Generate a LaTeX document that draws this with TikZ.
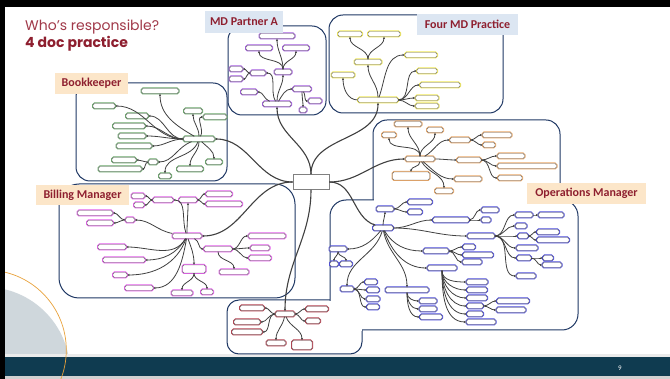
\documentclass[tikz,border=0pt]{standalone}
\usepackage{fontspec}
\setmainfont{Carlito}
\newfontfamily\titlefont{Poppins}
\usetikzlibrary{arrows.meta}

\definecolor{navy}{HTML}{1F3864}
\definecolor{wine}{HTML}{8E1F2F}
\definecolor{titlered}{HTML}{A13A4A}
\definecolor{tagbeige}{HTML}{FCE6C9}
\definecolor{tagblue}{HTML}{DCE6F2}
\definecolor{bandteal}{HTML}{0F3B50}
\definecolor{slidegray}{HTML}{CFD7DC}
\definecolor{arcorange}{HTML}{E9A23B}
\definecolor{cyel}{HTML}{F0E85A}
\definecolor{cpur}{HTML}{A35BE0}
\definecolor{cgrn}{HTML}{6AA86B}
\definecolor{cmag}{HTML}{E35FEA}
\definecolor{corg}{HTML}{EAA868}
\definecolor{cblu}{HTML}{4B4BDB}
\definecolor{cred}{HTML}{B5404F}

\begin{document}
\begin{tikzpicture}[
    x=1pt, y=-1pt,
    region/.style={draw=navy, line width=1pt, fill=white, rounded corners=14pt},
    tag/.style={font=\bfseries\fontsize{12}{12}\selectfont, text=wine, inner sep=0pt, minimum height=21pt},
    mapnode/.style={rounded corners=1.5pt, fill=white, draw=black!55, line width=0.4pt,
        minimum height=5pt, inner sep=0pt, preaction={draw=#1, line width=2pt}},
    ynode/.style={mapnode=cyel}, pnode/.style={mapnode=cpur}, gnode/.style={mapnode=cgrn},
    mnode/.style={mapnode=cmag}, onode/.style={mapnode=corg}, bnode/.style={mapnode=cblu},
    rnode/.style={mapnode=cred},
    wd/.style={minimum width=#1pt},
    link/.style={color=black!75, line width=0.8pt, -{Stealth[length=2.5pt,width=2.2pt]}},
    clink/.style={link, line width=1.1pt},
    lft/.style={out=180, in=0}, rgt/.style={out=0, in=180},
    upw/.style={out=90, in=-90}, dnw/.style={out=-90, in=90}
]
\useasboundingbox (0,0) rectangle (670,379);

% slide
\fill[white] (0,0) rectangle (670,379);
\begin{scope}
    \clip (5,7) rectangle (670,379);
    \fill[slidegray] (-15,372) circle (85pt);
    \fill[black!8] (5,354) rectangle (670,357);
    \fill[bandteal] (5,357) rectangle (670,376);
    \fill[black!18] (5,376) rectangle (670,379);
    \draw[arcorange, line width=0.7pt] (-13.7,350) circle (80pt);
\end{scope}
\fill[black] (0,0) rectangle (670,7);
\fill[black] (0,0) rectangle (5,379);

\node[anchor=base west, inner sep=0pt, text=titlered, font=\titlefont\fontsize{14}{14}\selectfont] (title) at (25,31) {Who’s responsible?};
\node[anchor=base west, inner sep=0pt, text=wine, font=\titlefont\bfseries\fontsize{14}{14}\selectfont] (subtitle) at (25,48) {4 doc practice};
\node[text=white, font=\fontsize{7}{7}\selectfont] (pagenum) at (620,368) {9};

% role areas
\draw[region] (228,26) rectangle (326,115);
\draw[region] (329,15) rectangle (503,113);
\draw[region] (76,83) rectangle (227,181);
\draw[region, rounded corners=20pt] (59,184) rectangle (295,298);
\draw[region] (373,120) rectangle (560,215);
\draw[region, rounded corners=12pt] (227,300) rectangle (362,354);
\draw[region, rounded corners=16pt] (330,200) rectangle (578,330);
\fill[white] (374,196) rectangle (559,204);
\fill[white] (329,301) rectangle (361.5,331);

% centre
\node[draw=black!50, fill=white, line width=0.6pt, minimum width=36pt, minimum height=15pt, inner sep=0pt] (hub) at (311,182) {};

% four MD practice
\node[ynode, wd=40] (y0) at (378,100) {};
\node[ynode, wd=27] (y1) at (368,62) {};
\node[ynode, wd=24] (y2) at (350,34) {};
\node[ynode, wd=32] (y3) at (384,34) {};
\node[ynode, wd=23] (y4) at (343,75) {};
\node[ynode, wd=32] (y5) at (421,55) {};
\node[ynode, wd=20] (y6) at (427,71) {};
\node[ynode, wd=40] (y7) at (440,85) {};
\node[ynode, wd=23] (y8) at (427,98) {};
\node[ynode, wd=23] (y9) at (427,106) {};

% MD partner A
\node[pnode, wd=28] (p0) at (277,104) {};
\node[pnode, wd=35] (p1) at (277,36) {};
\node[pnode, wd=26] (p2) at (259,48) {};
\node[pnode, wd=26] (p3) at (296,48) {};
\node[pnode, wd=15] (p4) at (258,73) {};
\node[pnode, wd=17] (p5) at (283,72) {};
\node[pnode, wd=13] (p6) at (236,69) {};
\node[pnode, wd=13] (p7) at (236,79) {};
\node[pnode, wd=16] (p8) at (249,92) {};
\node[pnode, wd=18] (p9) at (302,89) {};
\node[pnode, wd=13] (p10) at (315,101) {};
\node[pnode, wd=7] (p11) at (303,110) {};

% bookkeeper
\node[gnode, wd=31] (g0) at (199,139) {};
\node[gnode, wd=37] (g1) at (160,91) {};
\node[gnode, wd=22] (g2) at (104,106) {};
\node[gnode, wd=22] (g3) at (137,116) {};
\node[gnode, wd=18] (g4) at (193,111) {};
\node[gnode, wd=23] (g5) at (215,117) {};
\node[gnode, wd=32] (g6) at (129,126) {};
\node[gnode, wd=27] (g7) at (132,136) {};
\node[gnode, wd=35] (g8) at (134,146) {};
\node[gnode, wd=24] (g9) at (124,160) {};
\node[gnode, wd=43] (g10) at (120,169) {};
\node[gnode, wd=9] (g11) at (153,162) {};
\node[gnode, wd=12] (g12) at (165,176) {};
\node[gnode, wd=26] (g13) at (190,169) {};
\node[gnode, wd=16] (g14) at (214,162) {};

% billing manager
\node[mnode, wd=29] (m0) at (187,236) {};
\node[mnode, wd=13] (m1) at (138,196) {};
\node[mnode, wd=10] (m2) at (139,205) {};
\node[mnode, wd=20] (m3) at (163,200) {};
\node[mnode, wd=18] (m4) at (188,200) {};
\node[mnode, wd=26] (m5) at (219,194) {};
\node[mnode, wd=36] (m6) at (224,204) {};
\node[mnode, wd=35] (m7) at (95,213) {};
\node[mnode, wd=26] (m8) at (100,223) {};
\node[mnode, wd=9] (m9) at (130,220) {};
\node[mnode, wd=28] (m10) at (112,247) {};
\node[mnode, wd=42] (m11) at (124,260) {};
\node[mnode, wd=14] (m12) at (120,275) {};
\node[mnode, wd=28] (m13) at (139,288) {};
\node[mnode, wd=23, minimum height=8pt] (m14) at (194,269) {};
\node[mnode, wd=21] (m15) at (182,293) {};
\node[mnode, wd=12] (m16) at (207,292) {};
\node[mnode, wd=28] (m17) at (218,249) {};
\node[mnode, wd=29] (m18) at (234,272) {};
\node[mnode, wd=37] (m19) at (267,236) {};
\node[mnode, wd=19] (m20) at (260,248) {};
\node[mnode, wd=22] (m21) at (260,258) {};

% operations manager
\node[onode, wd=29] (o0) at (420,159) {};
\node[onode, wd=14] (o1) at (389,135) {};
\node[onode, wd=27] (o2) at (408,124) {};
\node[onode, wd=16] (o3) at (435,130) {};
\node[onode, wd=20] (o4) at (460,140) {};
\node[onode, wd=29] (o5) at (497,135) {};
\node[onode, wd=12] (o6) at (489,145) {};
\node[onode, wd=37, minimum height=8pt] (o7) at (411,176) {};
\node[onode, wd=24] (o8) at (469,160) {};
\node[onode, wd=27] (o9) at (511,156) {};
\node[onode, wd=59] (o10) at (527,166) {};
\node[onode, wd=24] (o11) at (510,178) {};
\node[onode, wd=27] (o12) at (468,179) {};
\node[onode, wd=18] (o13) at (444,191) {};

\node[bnode, wd=20] (b0) at (383,228) {};
\node[bnode, wd=17] (b1) at (385,209) {};
\node[bnode, wd=24] (b2) at (420,202) {};
\node[bnode, wd=14] (b3) at (415,212) {};
\node[bnode, wd=36] (b4) at (451,220) {};
\node[bnode, wd=17] (b5) at (490,210) {};
\node[bnode, wd=9] (b6) at (486,220) {};
\node[bnode, wd=27] (b7) at (481,236) {};
\node[bnode, wd=17] (b8) at (524,215) {};
\node[bnode, wd=25] (b9) at (551,215) {};
\node[bnode, wd=11] (b10) at (521,226) {};
\node[bnode, wd=10] (b11) at (523,236) {};
\node[bnode, wd=22] (b12) at (548,232) {};
\node[bnode, wd=32] (b13) at (553,240) {};
\node[bnode, wd=21] (b14) at (527,248) {};
\node[bnode, wd=14] (b15) at (524,258) {};
\node[bnode, wd=10] (b16) at (548,258) {};
\node[bnode, wd=19] (b17) at (552,265) {};
\node[bnode, wd=19] (b18) at (526,276) {};
\node[bnode, wd=17] (b19) at (338,249) {};
\node[bnode, wd=8] (b20) at (334,264) {};
\node[bnode, wd=12] (b21) at (346,264) {};
\node[bnode, wd=25] (b22) at (436,251) {};
\node[bnode, wd=12] (b23) at (469,247) {};
\node[bnode, wd=30] (b24) at (478,255) {};
\node[bnode, wd=19] (b25) at (472,262) {};
\node[bnode, wd=29] (b26) at (442,268) {};
\node[bnode, wd=21] (b27) at (477,282) {};
\node[bnode, wd=20] (b28) at (477,290) {};
\node[bnode, wd=20] (b29) at (477,298) {};
\node[bnode, wd=16] (b30) at (475,306) {};
\node[bnode, wd=16] (b31) at (475,314) {};
\node[bnode, wd=29] (b32) at (481,322) {};
\node[bnode, wd=32] (b33) at (513,301) {};
\node[bnode, wd=29] (b34) at (511,310) {};
\node[bnode, wd=13] (b35) at (347,289) {};
\node[bnode, wd=12] (b36) at (371,282) {};
\node[bnode, wd=12] (b37) at (373,290) {};
\node[bnode, wd=13] (b38) at (373,299) {};
\node[bnode, wd=12] (b39) at (373,307) {};
\node[bnode, wd=43] (b40) at (407,290) {};
\node[bnode, wd=17] (b41) at (428,301) {};
\node[bnode, wd=17] (b42) at (428,309) {};
\node[bnode, wd=22] (b43) at (431,317) {};

\node[rnode, wd=19] (r0) at (285,314) {};
\node[rnode, wd=24] (r1) at (252,308) {};
\node[rnode, wd=26] (r2) at (247,322) {};
\node[rnode, wd=30] (r3) at (247,332) {};
\node[rnode, wd=22] (r4) at (317,309) {};
\node[rnode, wd=14] (r5) at (313,321) {};
\node[rnode, wd=19] (r6) at (276,343) {};
\node[rnode, wd=20, minimum height=9pt] (r7) at (302,345) {};

% connectors
\path[clink] (hub) edge[upw] (y0) edge[upw] (p0) edge[lft] (g0) edge[lft] (m0)
    edge[rgt] (o0) edge[out=0, in=160] (b0) edge[dnw] (r0);

\path[link] (y0) edge[upw] (y1) edge[out=180, in=-90] (y4) edge[out=70, in=180] (y5)
    edge[rgt] (y6) edge[rgt] (y7) edge[rgt] (y8) edge[rgt] (y9);
\path[link] (y1) edge[upw] (y2) edge[upw] (y3);

\path[link] (p0) edge[upw] (p5) edge[out=120, in=0] (p4) edge[out=160, in=0] (p8) edge[out=60, in=180] (p9);
\path[link] (p5) edge[upw] (p1) edge[upw] (p2) edge[upw] (p3);
\path[link] (p4) edge[lft] (p6) edge[lft] (p7);
\path[link] (p9) edge[out=-60, in=180] (p10) edge[dnw] (p11);

\path[link] (g0) edge[out=150, in=-90] (g1) edge[lft] (g2) edge[lft] (g3) edge[lft] (g6)
    edge[lft] (g7) edge[lft] (g8) edge[upw] (g4) edge[out=60, in=180] (g5)
    edge[out=200, in=0] (g11) edge[out=-110, in=90] (g12) edge[dnw] (g13) edge[out=-45, in=90] (g14);
\path[link] (g11) edge[lft] (g9) edge[lft] (g10);

\path[link] (m0) edge[out=110, in=0] (m3) edge[upw] (m4) edge[out=170, in=0] (m9)
    edge[out=-120, in=0] (m10) edge[out=-120, in=0] (m11) edge[out=-110, in=0] (m12)
    edge[out=-100, in=0] (m13) edge[out=-70, in=90] (m14) edge[out=-20, in=180] (m17);
\path[link] (m3) edge[lft] (m1) edge[lft] (m2);
\path[link] (m4) edge[rgt] (m5) edge[rgt] (m6);
\path[link] (m9) edge[lft] (m7) edge[lft] (m8);
\path[link] (m14) edge[dnw] (m15) edge[dnw] (m16);
\path[link] (m17) edge[dnw] (m18) edge[rgt] (m19) edge[rgt] (m20) edge[rgt] (m21);

\path[link] (o0) edge[upw] (o1) edge[upw] (o2) edge[upw] (o3) edge[out=30, in=180] (o4)
    edge[dnw] (o7) edge[rgt] (o8) edge[out=-40, in=180] (o12) edge[out=-60, in=90] (o13);
\path[link] (o4) edge[rgt] (o5) edge[rgt] (o6);
\path[link] (o8) edge[rgt] (o9) edge[rgt] (o10) edge[rgt] (o11);

\path[link] (b0) edge[upw] (b1) edge[rgt] (b4) edge[rgt] (b7) edge[out=-60, in=180] (b22)
    edge[out=-70, in=180] (b26) edge[out=-130, in=0] (b19) edge[out=-105, in=90] (b35)
    edge[out=-80, in=90] (b40);
\path[link] (b1) edge[rgt] (b2) edge[rgt] (b3);
\path[link] (b4) edge[rgt] (b5) edge[rgt] (b6);
\path[link] (b7) edge[rgt] (b8) edge[rgt] (b10) edge[rgt] (b11) edge[rgt] (b14) edge[rgt] (b15) edge[rgt] (b18);
\path[link] (b8) edge[rgt] (b9);
\path[link] (b11) edge[rgt] (b12) edge[rgt] (b13);
\path[link] (b15) edge[rgt] (b16) edge[rgt] (b17);
\path[link] (b22) edge[rgt] (b23) edge[rgt] (b24) edge[rgt] (b25);
\path[link] (b26) edge[out=-90, in=180] (b27) edge[out=-90, in=180] (b28) edge[out=-90, in=180] (b29)
    edge[out=-90, in=180] (b30) edge[out=-90, in=180] (b31) edge[out=-90, in=180] (b32);
\path[link] (b30) edge[rgt] (b33) edge[rgt] (b34);
\path[link] (b19) edge[dnw] (b20) edge[dnw] (b21);
\path[link] (b35) edge[rgt] (b36) edge[rgt] (b37) edge[rgt] (b38) edge[rgt] (b39);
\path[link] (b40) edge[out=-90, in=180] (b41) edge[out=-90, in=180] (b42) edge[out=-90, in=180] (b43);

\path[link] (r0) edge[lft] (r1) edge[lft] (r2) edge[lft] (r3) edge[rgt] (r4) edge[rgt] (r5)
    edge[out=-100, in=90] (r6) edge[out=-70, in=90] (r7);

% role tags
\node[tag, fill=tagblue, minimum width=78pt, minimum height=22pt] (mdpartner) at (244,22) {MD Partner A};
\node[tag, fill=tagblue, minimum width=101pt] (fourmd) at (467.5,24.5) {Four MD Practice};
\node[tag, fill=tagbeige, minimum width=73pt] (bookkeeper) at (91.5,83.5) {Bookkeeper};
\node[tag, fill=tagbeige, minimum width=93pt, minimum height=20pt] (billing) at (82.5,195) {Billing Manager};
\node[tag, fill=tagbeige, minimum width=119pt] (operations) at (586.5,193.5) {Operations Manager};
\end{tikzpicture}
\end{document}
